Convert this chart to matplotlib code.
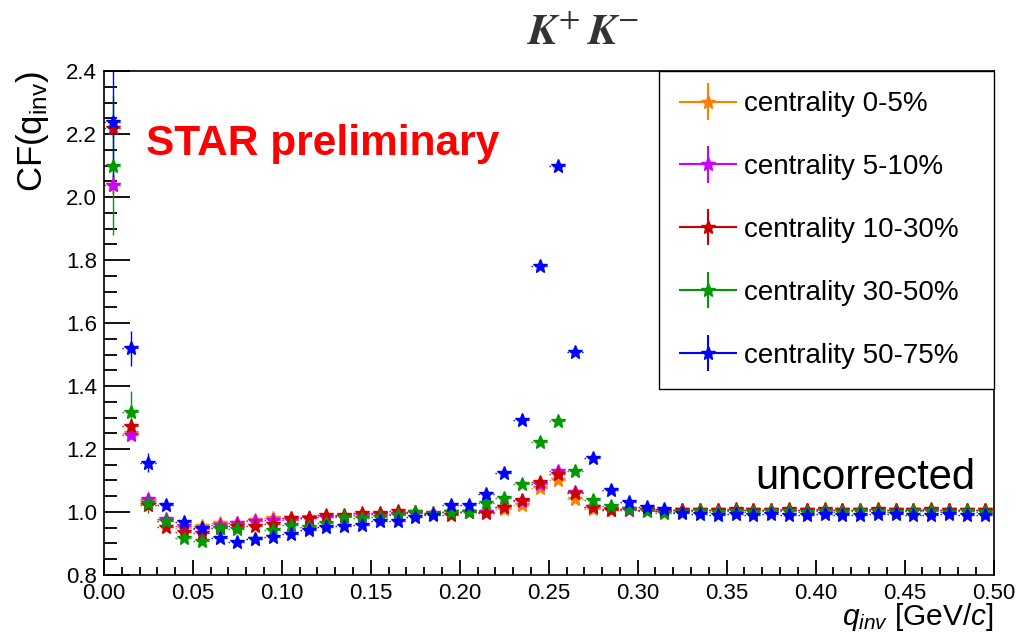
import numpy as np
import matplotlib
matplotlib.use('Agg')
import matplotlib.pyplot as plt
from matplotlib.ticker import MultipleLocator, FormatStrFormatter
from matplotlib.container import ErrorbarContainer
from matplotlib.legend_handler import HandlerErrorbar
from matplotlib.collections import LineCollection

plt.rcParams['font.family'] = ['Liberation Sans', 'DejaVu Sans']
plt.rcParams['mathtext.fontset'] = 'custom'
plt.rcParams['mathtext.rm'] = 'Liberation Sans'
plt.rcParams['mathtext.it'] = 'Liberation Sans:italic'

# bin centres of q_inv [GeV/c]
q_inv = np.arange(0.005, 0.5, 0.01)

labels = ['centrality 0-5%', 'centrality 5-10%', 'centrality 10-30%',
          'centrality 30-50%', 'centrality 50-75%']
colors = ['#ff7f00', '#cc00ff', '#cc0000', '#009900', '#0000ff']

cf_0_5 = [2.04, 1.250, 1.035, 0.970, 0.950, 0.955, 0.965, 0.965, 0.975, 0.980,
          0.980, 0.983, 0.985, 0.988, 0.990, 0.992, 0.995, 0.997, 0.998, 1.000,
          1.000, 1.000, 1.010, 1.022, 1.076, 1.100, 1.040, 1.010, 1.005, 1.005,
          1.005, 1.003, 1.005, 1.005, 1.006, 1.005, 1.006, 1.005, 1.006, 1.005,
          1.006, 1.005, 1.006, 1.006, 1.005, 1.006, 1.005, 1.006, 1.005, 1.006]
cf_5_10 = [2.04, 1.244, 1.040, 0.979, 0.955, 0.945, 0.958, 0.964, 0.970, 0.975,
           0.975, 0.980, 0.984, 0.986, 0.990, 0.992, 0.994, 0.996, 0.998, 1.000,
           1.000, 1.000, 1.015, 1.035, 1.090, 1.131, 1.065, 1.015, 1.010, 1.005,
           1.005, 1.004, 1.005, 1.006, 1.005, 1.006, 1.005, 1.006, 1.005, 1.006,
           1.005, 1.006, 1.005, 1.006, 1.005, 1.005, 1.006, 1.005, 1.006, 1.005]
cf_10_30 = [2.22, 1.273, 1.022, 0.952, 0.937, 0.933, 0.949, 0.955, 0.957, 0.963,
            0.981, 0.981, 0.990, 0.990, 0.997, 0.997, 1.003, 1.000, 0.993, 0.990,
            1.000, 0.997, 1.016, 1.038, 1.096, 1.120, 1.061, 1.015, 1.006, 1.008,
            1.005, 1.003, 1.006, 1.005, 1.006, 1.008, 1.005, 1.006, 1.008, 1.006,
            1.008, 1.006, 1.005, 1.008, 1.006, 1.006, 1.008, 1.005, 1.006, 1.006]
cf_30_50 = [2.10, 1.318, 1.028, 0.970, 0.918, 0.909, 0.949, 0.946, 0.913, 0.943,
            0.959, 0.953, 0.965, 0.985, 0.980, 0.984, 0.990, 1.000, 0.993, 1.000,
            1.000, 1.029, 1.045, 1.089, 1.223, 1.290, 1.131, 1.038, 1.019, 1.008,
            1.003, 0.998, 1.000, 1.002, 1.000, 1.003, 1.000, 1.003, 1.002, 1.000,
            1.003, 1.000, 1.003, 1.002, 1.000, 1.003, 1.002, 1.000, 1.002, 1.000]
cf_50_75 = [2.24, 1.520, 1.157, 1.022, 0.969, 0.949, 0.917, 0.906, 0.915, 0.922,
            0.930, 0.943, 0.952, 0.956, 0.959, 0.971, 0.971, 0.984, 0.990, 1.022,
            1.022, 1.057, 1.124, 1.292, 1.780, 2.100, 1.508, 1.171, 1.070, 1.033,
            1.015, 1.010, 0.997, 0.995, 0.990, 0.992, 0.990, 0.992, 0.990, 0.990,
            0.992, 0.990, 0.990, 0.992, 0.992, 0.990, 0.990, 0.992, 0.990, 0.990]

err_0_5 = [0.03, 0.012, 0.008, 0.005, 0.004, 0.004, 0.004, 0.004, 0.003, 0.003,
           0.003, 0.003, 0.003, 0.003, 0.003, 0.003, 0.003, 0.003, 0.003, 0.003,
           0.003, 0.003, 0.003, 0.003, 0.004, 0.004, 0.003, 0.003, 0.003, 0.003,
           0.003, 0.003, 0.003, 0.003, 0.003, 0.003, 0.003, 0.003, 0.003, 0.003,
           0.003, 0.003, 0.003, 0.003, 0.003, 0.003, 0.003, 0.003, 0.003, 0.003]
err_5_10 = [0.03, 0.012, 0.008, 0.005, 0.004, 0.004, 0.004, 0.004, 0.003, 0.003,
            0.003, 0.003, 0.003, 0.003, 0.003, 0.003, 0.003, 0.003, 0.003, 0.003,
            0.003, 0.003, 0.003, 0.003, 0.004, 0.004, 0.003, 0.003, 0.003, 0.003,
            0.003, 0.003, 0.003, 0.003, 0.003, 0.003, 0.003, 0.003, 0.003, 0.003,
            0.003, 0.003, 0.003, 0.003, 0.003, 0.003, 0.003, 0.003, 0.003, 0.003]
err_10_30 = [0.03, 0.020, 0.010, 0.006, 0.004, 0.004, 0.004, 0.004, 0.003, 0.003,
             0.003, 0.003, 0.003, 0.003, 0.003, 0.003, 0.003, 0.003, 0.003, 0.003,
             0.003, 0.003, 0.003, 0.003, 0.004, 0.004, 0.003, 0.003, 0.003, 0.003,
             0.003, 0.003, 0.003, 0.003, 0.003, 0.003, 0.003, 0.003, 0.003, 0.003,
             0.003, 0.003, 0.003, 0.003, 0.003, 0.003, 0.003, 0.003, 0.003, 0.003]
err_30_50 = [0.22, 0.065, 0.030, 0.012, 0.008, 0.007, 0.006, 0.006, 0.005, 0.005,
             0.005, 0.005, 0.005, 0.005, 0.005, 0.005, 0.005, 0.005, 0.005, 0.005,
             0.005, 0.005, 0.005, 0.006, 0.007, 0.007, 0.006, 0.005, 0.005, 0.005,
             0.005, 0.005, 0.005, 0.005, 0.005, 0.005, 0.005, 0.005, 0.005, 0.005,
             0.005, 0.005, 0.005, 0.005, 0.005, 0.005, 0.005, 0.005, 0.005, 0.005]
err_50_75 = [0.19, 0.055, 0.030, 0.012, 0.008, 0.007, 0.006, 0.006, 0.005, 0.005,
             0.005, 0.005, 0.005, 0.005, 0.005, 0.005, 0.005, 0.005, 0.005, 0.005,
             0.005, 0.005, 0.006, 0.007, 0.009, 0.010, 0.008, 0.006, 0.005, 0.005,
             0.005, 0.005, 0.005, 0.005, 0.005, 0.005, 0.005, 0.005, 0.005, 0.005,
             0.005, 0.005, 0.005, 0.005, 0.005, 0.005, 0.005, 0.005, 0.005, 0.005]

series = [cf_0_5, cf_5_10, cf_10_30, cf_30_50, cf_50_75]
errors = [err_0_5, err_5_10, err_10_30, err_30_50, err_50_75]

fig = plt.figure(figsize=(10.19, 6.36), dpi=100)
ax = fig.add_axes([0.102, 0.096, 0.873, 0.792])

for cf, err, col, lab in zip(series, errors, colors, labels):
    cont = ax.errorbar(q_inv, cf, xerr=0.005, yerr=err, fmt='*', color=col,
                       markersize=10.5, elinewidth=1.0, capsize=0, label=lab)
    cont[2][0].set_linestyle(':')

ax.set_xlim(0, 0.5)
ax.set_ylim(0.8, 2.4)
ax.xaxis.set_major_locator(MultipleLocator(0.05))
ax.xaxis.set_minor_locator(MultipleLocator(0.01))
ax.yaxis.set_major_locator(MultipleLocator(0.2))
ax.yaxis.set_minor_locator(MultipleLocator(0.05))
ax.xaxis.set_major_formatter(FormatStrFormatter('%.2f'))
ax.yaxis.set_major_formatter(FormatStrFormatter('%.1f'))
ax.tick_params(which='both', direction='in', top=False, right=False,
               labelsize=16, width=1.3)
ax.tick_params(axis='x', which='major', length=11, pad=6)
ax.tick_params(axis='x', which='minor', length=6)
ax.tick_params(axis='y', which='major', length=19, pad=5)
ax.tick_params(axis='y', which='minor', length=9.5)
for sp in ax.spines.values():
    sp.set_linewidth(1.2)

ax.set_xlabel(r'$q_{inv}$ [GeV/$c$]', fontsize=21.5, loc='right')
ax.xaxis.set_label_coords(1.0, -0.052)
ax.set_ylabel(r'CF(q$_{\mathrm{inv}}$)', fontsize=25, loc='top')
ax.yaxis.set_label_coords(-0.06, 1.0)

fig.text(583 / 1019, 1 - 45 / 636, r'$\mathbfit{K}^{+}\,\mathbfit{K}^{-}$',
         ha='center', va='baseline', fontsize=32, color='#333333',
         math_fontfamily='stix')

ax.text(0.047, 0.833, 'STAR preliminary', transform=ax.transAxes,
        color='#ff0000', fontsize=30.5, fontweight='bold', va='baseline')
ax.text(0.979, 0.171, 'uncorrected', transform=ax.transAxes,
        fontsize=30, ha='right', va='baseline')

leg = ax.legend(loc='upper left', bbox_to_anchor=(0.6236, 0.0, 0.3764, 1.0),
                mode='expand', borderaxespad=0, fontsize=20, fancybox=False,
                framealpha=1, edgecolor='black', handlelength=2.1,
                handletextpad=0.25, labelspacing=1.33, borderpad=0.72,
                handler_map={ErrorbarContainer: HandlerErrorbar(xerr_size=1.05, yerr_size=0.65)})
leg.get_frame().set_linewidth(1.0)
for lc in leg.findobj(LineCollection):
    lc.set_linestyle('-')

fig.savefig('out.png', dpi=100)
